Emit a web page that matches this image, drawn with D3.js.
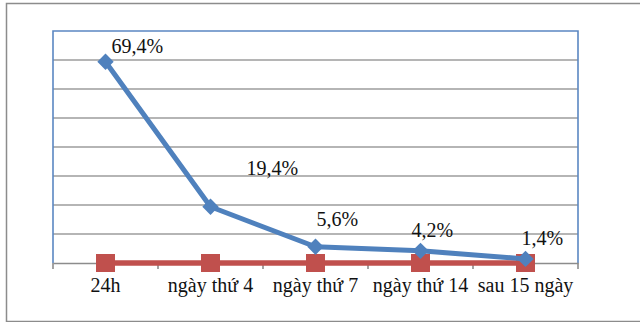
<!DOCTYPE html>
<html>
<head>
<meta charset="utf-8">
<script src="https://cdn.jsdelivr.net/npm/d3@7"></script>
<style>
  html, body { margin: 0; padding: 0; background: #fff; }
  svg { display: block; }
  text { font-family: "Liberation Serif", "Times New Roman", serif; }
</style>
</head>
<body>
<svg id="chart" width="640" height="322"></svg>
<script>
// Categories and series
const categories = ["24h", "ngày thứ 4", "ngày thứ 7", "ngày thứ 14", "sau 15 ngày"];
const blueValues = [69.4, 19.4, 5.6, 4.2, 1.4];
const redValues = [0, 0, 0, 0, 0];
const blueLabels = ["69,4%", "19,4%", "5,6%", "4,2%", "1,4%"];
const yTicks = [0, 10, 20, 30, 40, 50, 60, 70, 80];

// Label nudges relative to each point (dx, dy in px)
const labelNudge = [[6, -9], [36, -32], [1, -21], [-9, -14], [-4, -14]];

const svg = d3.select("#chart");
const plot = { left: 53, right: 578, top: 31, bottom: 263 };

// Outer frame
svg.append("path")
  .attr("d", "M641,3.5 H6.5 V321.5 H641")
  .attr("fill", "none").attr("stroke", "#8c8c8c").attr("stroke-width", 1.5);

const x = d3.scaleBand().domain(categories).range([plot.left, plot.right]).padding(0);
const y = d3.scaleLinear().domain([0, 80]).range([plot.bottom, plot.top]);

// Horizontal gridlines
svg.append("g")
  .selectAll("line").data(yTicks.filter(t => t > 0 && t < 80)).join("line")
  .attr("x1", plot.left).attr("x2", plot.right)
  .attr("y1", d => y(d)).attr("y2", d => y(d))
  .attr("stroke", "#9d9d9d").attr("stroke-width", 1.6);

// Plot border (top, left, right)
svg.append("path")
  .attr("d", `M${plot.left},${plot.bottom} V${y(80)} H${plot.right} V${plot.bottom}`)
  .attr("fill", "none").attr("stroke", "#5b87c2").attr("stroke-width", 1.6);

// Category axis
const xAxis = d3.axisBottom(x).tickSize(0).tickSizeOuter(0);
const gx = svg.append("g").attr("transform", `translate(0,${plot.bottom})`).call(xAxis);
gx.select(".domain").attr("stroke", "#8c8c8c").attr("stroke-width", 1.6);
gx.selectAll(".tick text")
  .attr("y", 29).attr("dy", 0)
  .attr("font-size", 20).attr("fill", "#111")
  .style("font-family", '"Liberation Serif", "Times New Roman", serif');
// Tick marks at category boundaries
const bounds = categories.map(c => x(c)).concat([x(categories[categories.length - 1]) + x.bandwidth()]);
gx.append("g").selectAll("line").data(bounds).join("line")
  .attr("x1", d => d).attr("x2", d => d).attr("y1", 0).attr("y2", 6)
  .attr("stroke", "#8c8c8c").attr("stroke-width", 1.6);

const cx = c => x(c) + x.bandwidth() / 2;

// Red series
const redPts = categories.map((c, i) => [cx(c), y(redValues[i])]);
svg.append("path")
  .attr("d", d3.line()(redPts))
  .attr("fill", "none").attr("stroke", "#c0504d").attr("stroke-width", 5.5);
svg.append("g").selectAll("rect").data(redPts).join("rect")
  .attr("x", d => d[0] - 9.5).attr("y", d => d[1] - 9)
  .attr("width", 19).attr("height", 18)
  .attr("fill", "#c0504d");

// Blue series
const bluePts = categories.map((c, i) => [cx(c), y(blueValues[i])]);
svg.append("path")
  .attr("d", d3.line()(bluePts))
  .attr("fill", "none").attr("stroke", "#4f81bd").attr("stroke-width", 5)
  .attr("stroke-linejoin", "round");
svg.append("g").selectAll("path").data(bluePts).join("path")
  .attr("transform", d => `translate(${d[0]},${d[1]})`)
  .attr("d", d3.symbol().type(d3.symbolDiamond2).size(170))
  .attr("fill", "#4f81bd");

// Data labels
svg.append("g").selectAll("text").data(bluePts).join("text")
  .attr("x", (d, i) => d[0] + labelNudge[i][0])
  .attr("y", (d, i) => d[1] + labelNudge[i][1])
  .attr("font-size", 20).attr("fill", "#111")
  .text((d, i) => blueLabels[i]);
</script>
</body>
</html>
